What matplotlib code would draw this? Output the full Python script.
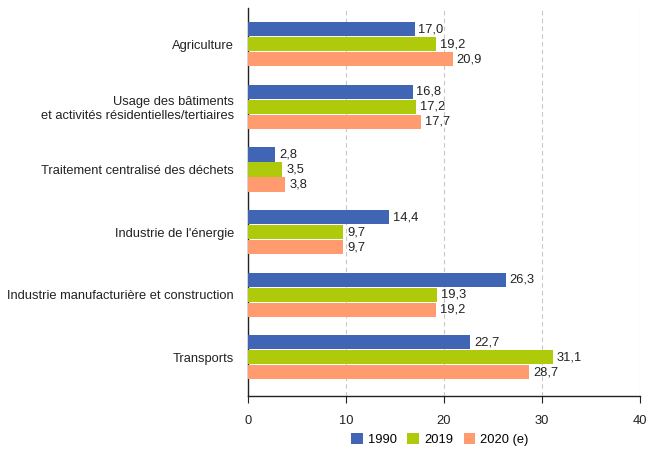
import matplotlib.pyplot as plt
import numpy as np

plt.rcParams['font.family'] = ['Liberation Sans', 'DejaVu Sans']

# Emissions par secteur
secteurs = ["Agriculture",
            "Usage des bâtiments\net activités résidentielles/tertiaires",
            "Traitement centralisé des déchets",
            "Industrie de l'énergie",
            "Industrie manufacturière et construction",
            "Transports"]
v1990 = [17.0, 16.8, 2.8, 14.4, 26.3, 22.7]
v2019 = [19.2, 17.2, 3.5, 9.7, 19.3, 31.1]
v2020 = [20.9, 17.7, 3.8, 9.7, 19.2, 28.7]
series = ["1990", "2019", "2020 (e)"]
couleurs = ['#4065B4', '#AFCA0B', '#FF9B6E']

fig = plt.figure(figsize=(6.49, 4.51), dpi=100)
ax = fig.add_axes([0.382, 0.122, 0.604, 0.860])

fs = 9.3
y = np.arange(len(secteurs))
h = 0.225
step = 0.24
for k, (vals, lab, c) in enumerate(zip([v1990, v2019, v2020], series, couleurs)):
    pos = y + (k - 1) * step
    bars = ax.barh(pos, vals, height=h, color=c, label=lab, zorder=3)
    for b, v in zip(bars, vals):
        ax.text(b.get_width() + 0.4, b.get_y() + b.get_height() / 2,
                f"{v:.1f}".replace('.', ','), va='center', ha='left',
                fontsize=fs, color='#222222', zorder=4)

ax.set_ylim(5.62, -0.58)
ax.set_xlim(0, 40)
ax.set_xticks([0, 10, 20, 30, 40])
ax.set_yticks(y)
ax.set_yticklabels(secteurs, fontsize=fs, color='#222222', ha='right')
ax.tick_params(axis='y', length=0, pad=10)
ax.tick_params(axis='x', length=5, labelsize=fs, colors='#222222', pad=9)
ax.xaxis.grid(True, linestyle=(0, (4, 3)), color='#C8C8C8', linewidth=0.8, zorder=0)
for s in ['top', 'right']:
    ax.spines[s].set_visible(False)
for s in ['left', 'bottom']:
    ax.spines[s].set_color('#222222')
    ax.spines[s].set_linewidth(1.0)

ax.legend(loc='upper center', bbox_to_anchor=(0.49, -0.065), ncol=3, frameon=False,
          fontsize=fs, handlelength=0.9, handleheight=0.9, handletextpad=0.4,
          columnspacing=0.8)

fig.savefig('out.png', dpi=100)
